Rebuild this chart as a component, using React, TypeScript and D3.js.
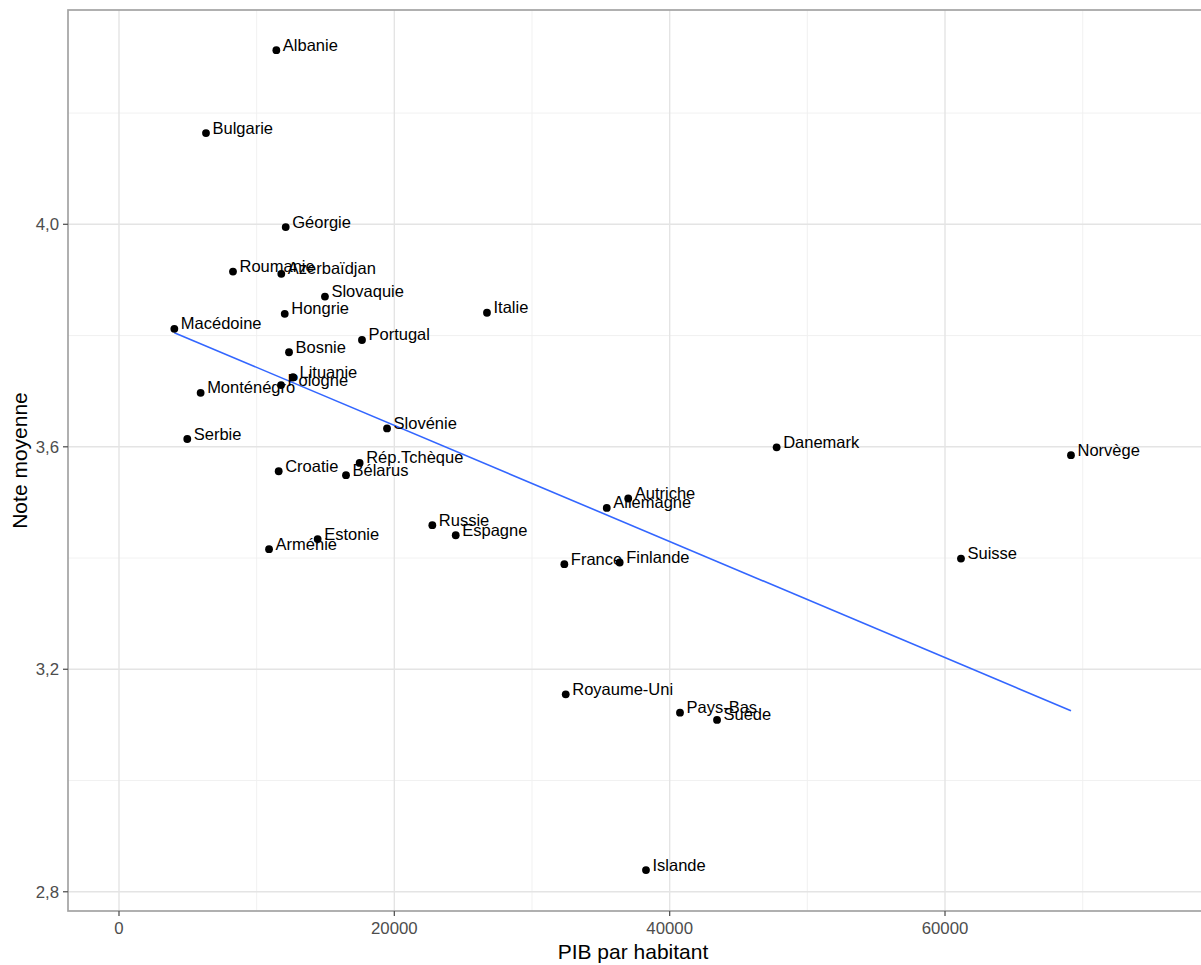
import React, { useEffect, useRef } from 'react'
import * as d3 from 'd3'

// pays, PIB par habitant, note moyenne
const pays = [
  'Albanie', 'Bulgarie', 'Géorgie', 'Roumanie', 'Azerbaïdjan', 'Slovaquie', 'Hongrie',
  'Macédoine', 'Italie', 'Portugal', 'Bosnie', 'Lituanie', 'Pologne', 'Monténégro',
  'Slovénie', 'Serbie', 'Croatie', 'Rép.Tchèque', 'Bélarus', 'Russie', 'Espagne',
  'Estonie', 'Arménie', 'Autriche', 'Allemagne', 'France', 'Finlande', 'Danemark',
  'Norvège', 'Suisse', 'Royaume-Uni', 'Pays-Bas', 'Suède', 'Islande'
]
const pib = [
  11430, 6320, 12110, 8280, 11790, 14960, 12040,
  4020, 26730, 17650, 12350, 12640, 11770, 5930,
  19470, 4960, 11600, 17480, 16490, 22760, 24460,
  14430, 10900, 36990, 35430, 32350, 36370, 47770,
  69150, 61160, 32450, 40750, 43440, 38280
]
const note = [
  4.313, 4.164, 3.995, 3.915, 3.911, 3.870, 3.839,
  3.812, 3.841, 3.792, 3.770, 3.725, 3.711, 3.697,
  3.633, 3.614, 3.556, 3.571, 3.549, 3.459, 3.441,
  3.434, 3.416, 3.507, 3.490, 3.389, 3.392, 3.599,
  3.585, 3.399, 3.155, 3.122, 3.109, 2.839
]

const xTicks = [0, 20000, 40000, 60000]
const xMinor = [10000, 30000, 50000, 70000]
const yTicks = [2.8, 3.2, 3.6, 4.0]
const yMinor = [3.0, 3.4, 3.8, 4.2]

const xLimits: [number, number] = [-3704, 78740]
const yLimits: [number, number] = [2.7654, 4.3853]

const W = 1201
const H = 965
const margin = { top: 10, right: -2, bottom: 54, left: 68 }

const FONT = '"Liberation Sans", Arial, Helvetica, sans-serif'

export default function App() {
  const svgRef = useRef<SVGSVGElement>(null)

  useEffect(() => {
    if (!svgRef.current) return
    const svg = d3.select(svgRef.current)
    svg.selectAll('*').remove()

    const left = margin.left
    const right = W - margin.right
    const top = margin.top
    const bottom = H - margin.bottom

    const x = d3.scaleLinear().domain(xLimits).range([left, right])
    const y = d3.scaleLinear().domain(yLimits).range([bottom, top])

    const data = pays.map((p, i) => ({ pays: p, pib: pib[i], note: note[i] }))

    // grille
    const grid = svg.append('g')
    grid.selectAll('line.xmin').data(xMinor).enter().append('line')
      .attr('x1', d => x(d)).attr('x2', d => x(d)).attr('y1', top).attr('y2', bottom)
      .style('stroke', '#efefef').style('stroke-width', 0.9)
    grid.selectAll('line.ymin').data(yMinor).enter().append('line')
      .attr('x1', left).attr('x2', right).attr('y1', d => y(d)).attr('y2', d => y(d))
      .style('stroke', '#efefef').style('stroke-width', 0.9)
    grid.selectAll('line.xmaj').data(xTicks).enter().append('line')
      .attr('x1', d => x(d)).attr('x2', d => x(d)).attr('y1', top).attr('y2', bottom)
      .style('stroke', '#e4e4e4').style('stroke-width', 1.4)
    grid.selectAll('line.ymaj').data(yTicks).enter().append('line')
      .attr('x1', left).attr('x2', right).attr('y1', d => y(d)).attr('y2', d => y(d))
      .style('stroke', '#e4e4e4').style('stroke-width', 1.4)

    // droite de régression (moindres carrés)
    const mx = d3.mean(pib)!
    const my = d3.mean(note)!
    let sxy = 0
    let sxx = 0
    pib.forEach((v, i) => {
      sxy += (v - mx) * (note[i] - my)
      sxx += (v - mx) * (v - mx)
    })
    const slope = sxy / sxx
    const intercept = my - slope * mx
    const ext = d3.extent(pib) as [number, number]
    const line = d3.line<number>().x(d => x(d)).y(d => y(intercept + slope * d))
    svg.append('path')
      .datum(ext)
      .attr('d', line)
      .style('fill', 'none')
      .style('stroke', '#3366FF')
      .style('stroke-width', 1.6)

    // points
    svg.append('g').selectAll('circle').data(data).enter().append('circle')
      .attr('cx', d => x(d.pib))
      .attr('cy', d => y(d.note))
      .attr('r', 3.9)
      .style('fill', '#000')

    // étiquettes
    svg.append('g').selectAll('text').data(data).enter().append('text')
      .attr('x', d => x(d.pib) + 6.5)
      .attr('y', d => y(d.note) + 0.5)
      .style('font-family', FONT)
      .style('font-size', '16.5px')
      .style('fill', '#000')
      .text(d => d.pays)

    // cadre
    svg.append('rect')
      .attr('x', left).attr('y', top)
      .attr('width', right - left).attr('height', bottom - top)
      .style('fill', 'none')
      .style('stroke', '#a3a3a3')
      .style('stroke-width', 1.7)

    // axe X
    const gx = svg.append('g')
    gx.selectAll('line').data(xTicks).enter().append('line')
      .attr('x1', d => x(d)).attr('x2', d => x(d))
      .attr('y1', bottom).attr('y2', bottom + 5)
      .style('stroke', '#555').style('stroke-width', 1.3)
    gx.selectAll('text').data(xTicks).enter().append('text')
      .attr('x', d => x(d)).attr('y', bottom + 23)
      .attr('text-anchor', 'middle')
      .style('font-family', FONT).style('font-size', '16.8px').style('fill', '#4d4d4d')
      .text(d => String(d))

    // axe Y
    const fmt = (v: number) => d3.format('.1f')(v).replace('.', ',')
    const gy = svg.append('g')
    gy.selectAll('line').data(yTicks).enter().append('line')
      .attr('x1', left - 5).attr('x2', left)
      .attr('y1', d => y(d)).attr('y2', d => y(d))
      .style('stroke', '#555').style('stroke-width', 1.3)
    gy.selectAll('text').data(yTicks).enter().append('text')
      .attr('x', left - 9).attr('y', d => y(d))
      .attr('dy', '0.35em')
      .attr('text-anchor', 'end')
      .style('font-family', FONT).style('font-size', '16.8px').style('fill', '#4d4d4d')
      .text(d => fmt(d))

    // titres
    svg.append('text')
      .attr('x', 633).attr('y', 959)
      .attr('text-anchor', 'middle')
      .style('font-family', FONT).style('font-size', '21px').style('fill', '#000')
      .text('PIB par habitant')
    svg.append('text')
      .attr('transform', `translate(27,${(top + bottom) / 2}) rotate(-90)`)
      .attr('text-anchor', 'middle')
      .style('font-family', FONT).style('font-size', '21px').style('fill', '#000')
      .text('Note moyenne')
  }, [])

  return (
    <div style={{ position: 'absolute', left: 0, top: 0, width: W, height: H, overflow: 'hidden', background: '#fff' }}>
      <svg ref={svgRef} width={W} height={H} style={{ display: 'block' }} />
    </div>
  )
}
